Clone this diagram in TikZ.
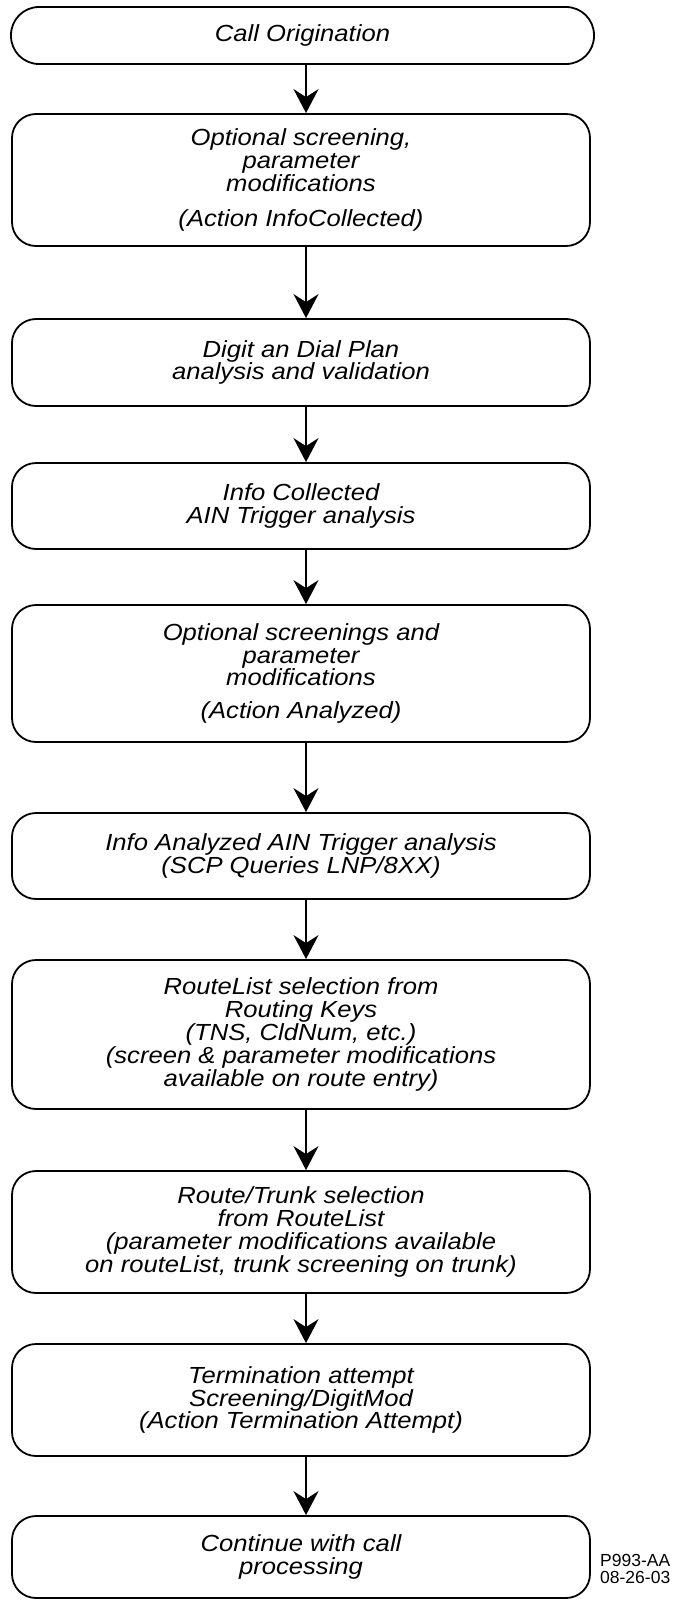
\documentclass[tikz,border=0pt]{standalone}
\usepackage{fontspec}
\setmainfont{Liberation Sans}
\newfontfamily\boxfont[FakeStretch=1.1]{Liberation Sans}
\usetikzlibrary{arrows.meta}

\begin{document}
\begin{tikzpicture}[x=1pt,y=-1pt,
  flowbox/.style={draw, line width=1.8pt, rounded corners=24pt, align=center,
    inner sep=0pt, minimum width=578pt,
    font=\boxfont\itshape\fontsize{23.3}{22.8}\selectfont},
  flowarrow/.style={line width=1.8pt,
    -{Stealth[length=24pt,width=25pt,inset=8pt]}},
  tagtext/.style={font=\fontsize{17.5}{17}\selectfont, align=left, inner sep=0pt, anchor=west}]
\useasboundingbox (0,0) rectangle (680,1600);

% process steps
\node[flowbox, minimum width=583pt, minimum height=57pt, rounded corners=28pt] (b1) at (302.5,35.5) {Call Origination};
\node[flowbox, minimum height=132pt] (b2) at (301,180) {Optional screening,\\parameter\\modifications\\[12pt](Action InfoCollected)};
\node[flowbox, minimum height=87pt] (b3) at (301,362.5) {Digit an Dial Plan\\analysis and validation};
\node[flowbox, minimum height=86pt] (b4) at (301,506) {Info Collected\\AIN Trigger analysis};
\node[flowbox, minimum height=137pt] (b5) at (301,673.5) {Optional screenings and\\parameter\\modifications\\[10pt](Action Analyzed)};
\node[flowbox, minimum height=86pt] (b6) at (301,856) {Info Analyzed AIN Trigger analysis\\(SCP Queries LNP/8XX)};
\node[flowbox, minimum height=149pt] (b7) at (301,1034.5) {RouteList selection from\\Routing Keys\\(TNS, CldNum, etc.)\\(screen \& parameter modifications\\available on route entry)};
\node[flowbox, minimum height=122pt] (b8) at (301,1232) {Route/Trunk selection\\from RouteList\\(parameter modifications available\\on routeList, trunk screening on trunk)};
\node[flowbox, minimum height=112pt] (b9) at (301,1400) {Termination attempt\\Screening/DigitMod\\(Action Termination Attempt)};
\node[flowbox, minimum height=82pt] (b10) at (301,1557) {Continue with call\\processing};

% figure tag
\node[tagtext] (tag) at (600,1569) {P993-AA\\08-26-03};

% flow connectors
\coordinate (ax) at (306,0);
\foreach \a/\b in {b1/b2,b2/b3,b3/b4,b4/b5,b5/b6,b6/b7,b7/b8,b8/b9,b9/b10}
  \draw[flowarrow] (\a.south -| ax) -- (\b.north -| ax);
\end{tikzpicture}
\end{document}
